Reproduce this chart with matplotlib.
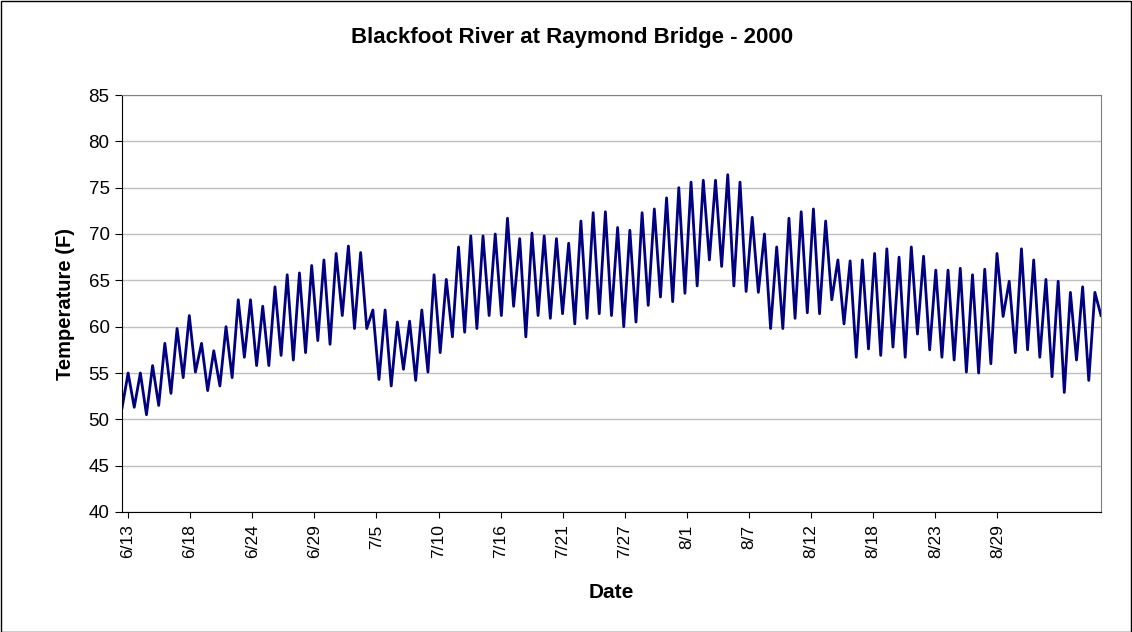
import matplotlib
matplotlib.use("Agg")
import matplotlib.pyplot as plt
from matplotlib.patches import Rectangle
import numpy as np

plt.rcParams['font.family'] = ['Liberation Sans', 'DejaVu Sans']

# alternating daily lows / highs (F), 6/13 -> ~9/1
temps = [
    51.2, 55.0, 51.3, 55.0, 50.5, 55.8, 51.5, 58.2, 52.8, 59.8,
    54.5, 61.2, 55.1, 58.2, 53.1, 57.4, 53.6, 60.0, 54.5, 62.9,
    56.7, 62.9, 55.8, 62.2, 55.8, 64.3, 56.9, 65.6, 56.4, 65.8,
    57.2, 66.6, 58.5, 67.2, 58.1, 67.9, 61.2, 68.7, 59.8, 68.0,
    59.8, 61.8, 54.3, 61.8, 53.6, 60.5, 55.4, 60.6, 54.2, 61.8,
    55.1, 65.6, 57.2, 65.1, 58.9, 68.6, 59.4, 69.8, 59.8, 69.8,
    61.2, 70.0, 61.2, 71.7, 62.2, 69.5, 58.9, 70.1, 61.2, 69.8,
    60.9, 69.5, 61.4, 69.0, 60.3, 71.4, 60.9, 72.3, 61.4, 72.4,
    61.2, 70.7, 60.0, 70.4, 60.5, 72.3, 62.3, 72.7, 63.2, 73.9,
    62.7, 75.0, 63.6, 75.6, 64.4, 75.8, 67.2, 75.8, 66.5, 76.4,
    64.4, 75.6, 63.8, 71.8, 63.7, 70.0, 59.8, 68.6, 59.8, 71.7,
    60.9, 72.4, 61.5, 72.7, 61.4, 71.4, 62.9, 67.2, 60.3, 67.1,
    56.7, 67.2, 57.6, 67.9, 56.9, 68.4, 57.8, 67.5, 56.7, 68.6,
    59.2, 67.6, 57.5, 66.1, 56.7, 66.1, 56.4, 66.3, 55.1, 65.6,
    55.0, 66.2, 56.0, 67.9, 61.1, 64.9, 57.2, 68.4, 57.5, 67.2,
    56.7, 65.1, 54.6, 64.9, 52.9, 63.7, 56.4, 64.3, 54.2, 63.7,
    61.2,
]
date_labels = ['6/13', '6/18', '6/24', '6/29', '7/5', '7/10', '7/16', '7/21',
               '7/27', '8/1', '8/7', '8/12', '8/18', '8/23', '8/29']

W, H = 1132, 632
fig = plt.figure(figsize=(W / 100, H / 100), dpi=100)
fig.patches.append(Rectangle((0.5 / W, 0.5 / H), 1 - 1.5 / W, 1 - 1.5 / H,
                             transform=fig.transFigure, fill=False,
                             ec='black', lw=1))

ax = fig.add_axes([122 / W, 1 - 512 / H, (1101 - 122) / W, (512 - 95) / H])

x = np.arange(len(temps))
ax.plot(x, temps, color='#000080', lw=2, solid_joinstyle='round')

ax.set_xlim(0, len(temps) - 1)
ax.set_ylim(40, 85)
ax.set_yticks(np.arange(40, 86, 5))
ax.yaxis.grid(True, color='#c0c0c0', lw=1)
ax.set_axisbelow(True)

px = (len(temps) - 1) / (1101 - 122)   # index units per pixel
ax.set_xticks((6 + np.arange(len(date_labels)) * 62.1) * px)
ax.set_xticklabels(date_labels, rotation=90)

ax.tick_params(axis='y', labelsize=13.5, direction='out', length=5,
               color='black', pad=4)
ax.tick_params(axis='x', labelsize=12.5, direction='out', length=4,
               color='black', pad=5)

for s in ['top', 'right']:
    ax.spines[s].set_color('#808080')
for s in ['left', 'bottom']:
    ax.spines[s].set_color('black')

ax.set_ylabel('Temperature (F)', fontsize=14.5, fontweight='bold', labelpad=10)
ax.set_xlabel('Date', fontsize=15, fontweight='bold', labelpad=18)
fig.text(0.505, 1 - 38 / H, 'Blackfoot River at Raymond Bridge - 2000',
         ha='center', va='center', fontsize=16, fontweight='bold')

fig.savefig('out.png', dpi=100)
